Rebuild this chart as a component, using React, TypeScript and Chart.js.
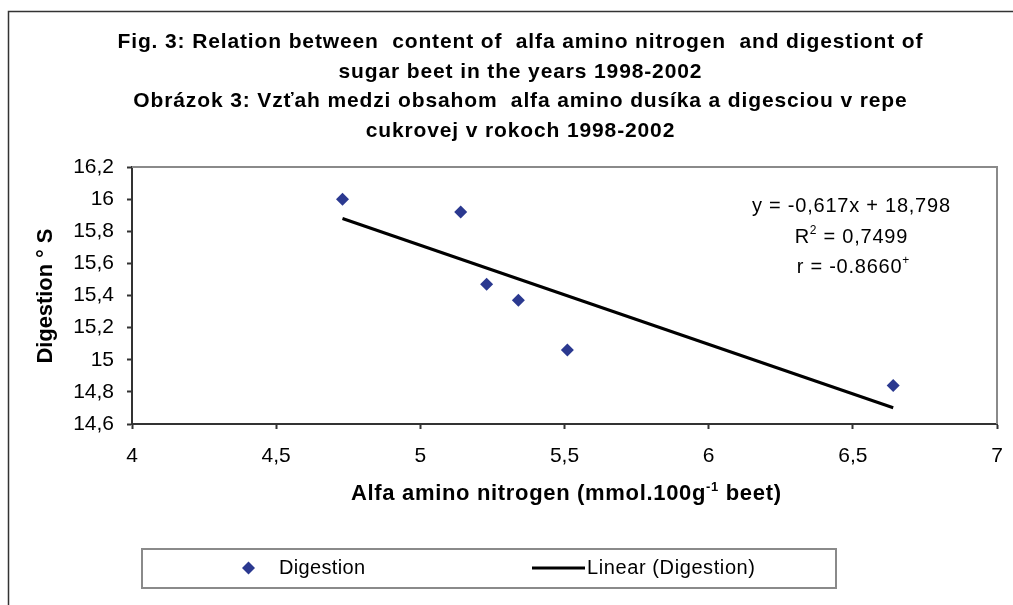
import React, { useEffect, useRef } from 'react';
import { Chart, registerables } from 'chart.js';

Chart.register(...registerables);

// ---- data ----
const NITROGEN = [4.73, 5.14, 5.23, 5.34, 5.51, 6.64];
const DIGESTION = [16.0, 15.92, 15.47, 15.37, 15.06, 14.84];
const SLOPE = -0.617;
const INTERCEPT = 18.798;
const R_SQUARED = '0,7499';
const R_VALUE = '-0.8660';
const TITLE_LINES = [
  'Fig. 3: Relation between  content of  alfa amino nitrogen  and digestiont of',
  'sugar beet in the years 1998-2002',
  'Obrázok 3: Vzťah medzi obsahom  alfa amino dusíka a digesciou v repe',
  'cukrovej v rokoch 1998-2002',
];
const SERIES_LABEL = 'Digestion';
const TREND_LABEL = 'Linear (Digestion)';
const Y_TITLE = 'Digestion ° S';
const X_TITLE_MAIN = 'Alfa amino nitrogen (mmol.100g';
const X_TITLE_SUP = '-1';
const X_TITLE_END = ' beet)';
const X_MIN = 4, X_MAX = 7, X_STEP = 0.5;
const Y_MIN = 14.6, Y_MAX = 16.2, Y_STEP = 0.2;

const FONT = '"Liberation Sans", Arial, sans-serif';
const MARKER = '#2b3990';

const fmt = (v: number) => {
  const r = Math.round(v * 10) / 10;
  return String(r).replace('.', ',');
};

type Part = { t: string; font: string; dy: number };

function drawRun(
  ctx: CanvasRenderingContext2D,
  parts: Part[],
  x: number,
  y: number,
  width: number | null,
  align: 'center' | 'left',
  spacingOverride?: number
) {
  const c: any = ctx;
  c.letterSpacing = '0px';
  let w0 = 0;
  let n = 0;
  parts.forEach((p) => {
    ctx.font = p.font;
    w0 += ctx.measureText(p.t).width;
    n += p.t.length;
  });
  let s = spacingOverride ?? 0;
  if (spacingOverride === undefined && width !== null && n > 1) s = (width - w0) / (n - 1);
  const total = w0 + s * (n - 1);
  let cx = align === 'center' ? x - total / 2 : x;
  ctx.textAlign = 'left';
  ctx.textBaseline = 'middle';
  parts.forEach((p) => {
    ctx.font = p.font;
    c.letterSpacing = `${s}px`;
    ctx.fillText(p.t, cx, y + p.dy);
    c.letterSpacing = '0px';
    cx += ctx.measureText(p.t).width + s * p.t.length;
  });
  c.letterSpacing = '0px';
  return s;
}

function spacingFor(ctx: CanvasRenderingContext2D, text: string, font: string, width: number) {
  const c: any = ctx;
  c.letterSpacing = '0px';
  ctx.font = font;
  const w0 = ctx.measureText(text).width;
  return (width - w0) / (text.length - 1);
}

const drawPlugin = {
  id: 'decor',
  beforeDraw(chart: any) {
    const ctx = chart.ctx;
    ctx.save();
    ctx.fillStyle = '#ffffff';
    ctx.fillRect(0, 0, chart.width, chart.height);
    ctx.restore();
  },
  afterDraw(chart: any) {
    const ctx = chart.ctx as CanvasRenderingContext2D;
    const ca = chart.chartArea;
    ctx.save();
    // outer frame (top + left)
    ctx.strokeStyle = '#333333';
    ctx.lineWidth = 1.5;
    ctx.beginPath();
    ctx.moveTo(8.5, 605);
    ctx.lineTo(8.5, 11.5);
    ctx.lineTo(1013, 11.5);
    ctx.stroke();

    // plot area top/right border (gray)
    ctx.strokeStyle = '#8a8a8a';
    ctx.lineWidth = 2;
    ctx.beginPath();
    ctx.moveTo(ca.left, ca.top);
    ctx.lineTo(ca.right, ca.top);
    ctx.lineTo(ca.right, ca.bottom);
    ctx.stroke();

    ctx.fillStyle = '#000';
    const bold = `bold 21px ${FONT}`;
    const axisBold = `bold 22px ${FONT}`;
    const reg = `20px ${FONT}`;

    // title
    const ts = spacingFor(ctx, TITLE_LINES[0], bold, 805);
    const titleY = [42.5, 72, 101.5, 131];
    TITLE_LINES.forEach((t, i) =>
      drawRun(ctx, [{ t, font: bold, dy: 0 }], 520, titleY[i], null, 'center', ts)
    );

    // y axis title
    ctx.save();
    ctx.translate(46, 296);
    ctx.rotate(-Math.PI / 2);
    drawRun(ctx, [{ t: Y_TITLE, font: axisBold, dy: 0 }], 0, 0, 135, 'center');
    ctx.restore();

    // x axis title with superscript
    drawRun(
      ctx,
      [
        { t: X_TITLE_MAIN, font: axisBold, dy: 0 },
        { t: X_TITLE_SUP, font: `bold 13px ${FONT}`, dy: -7 },
        { t: X_TITLE_END, font: axisBold, dy: 0 },
      ],
      566,
      494,
      430,
      'center'
    );

    // equation text
    const eqX = 851;
    const eq1 = `y = ${String(SLOPE).replace('.', ',')}x + ${String(INTERCEPT).replace('.', ',')}`;
    const es = drawRun(ctx, [{ t: eq1, font: reg, dy: 0 }], eqX, 206, 198, 'center');
    drawRun(
      ctx,
      [
        { t: 'R', font: reg, dy: 0 },
        { t: '2', font: `12px ${FONT}`, dy: -6 },
        { t: ` = ${R_SQUARED}`, font: reg, dy: 0 },
      ],
      eqX,
      237,
      null,
      'center',
      es
    );
    drawRun(
      ctx,
      [
        { t: `r = ${R_VALUE}`, font: reg, dy: 0 },
        { t: '+', font: `12px ${FONT}`, dy: -6 },
      ],
      eqX + 2,
      267,
      null,
      'center',
      es
    );

    // legend
    ctx.strokeStyle = '#8a8a8a';
    ctx.lineWidth = 2;
    ctx.strokeRect(142, 549, 694, 39);
    const ly = 568;
    ctx.fillStyle = MARKER;
    ctx.beginPath();
    ctx.moveTo(248.5, ly - 6.5);
    ctx.lineTo(255, ly);
    ctx.lineTo(248.5, ly + 6.5);
    ctx.lineTo(242, ly);
    ctx.closePath();
    ctx.fill();
    ctx.fillStyle = '#000';
    drawRun(ctx, [{ t: SERIES_LABEL, font: reg, dy: 0 }], 279, ly, 86, 'left');
    ctx.strokeStyle = '#000';
    ctx.lineWidth = 3;
    ctx.beginPath();
    ctx.moveTo(532, ly);
    ctx.lineTo(585, ly);
    ctx.stroke();
    drawRun(ctx, [{ t: TREND_LABEL, font: reg, dy: 0 }], 587, ly, 168, 'left');
    ctx.restore();
  },
};

export default function App() {
  const ref = useRef<HTMLCanvasElement | null>(null);
  useEffect(() => {
    if (!ref.current) return;
    const xMin = Math.min(...NITROGEN);
    const xMax = Math.max(...NITROGEN);
    const trend = [
      { x: xMin, y: SLOPE * xMin + INTERCEPT },
      { x: xMax, y: SLOPE * xMax + INTERCEPT },
    ];
    const chart = new Chart(ref.current, {
      type: 'scatter',
      data: {
        datasets: [
          {
            label: TREND_LABEL,
            type: 'line',
            data: trend,
            borderColor: '#000',
            borderWidth: 3,
            pointRadius: 0,
            fill: false,
            order: 2,
          } as any,
          {
            label: SERIES_LABEL,
            data: NITROGEN.map((x, i) => ({ x, y: DIGESTION[i] })),
            pointStyle: 'rectRot',
            pointRadius: 6.5,
            pointHoverRadius: 6.5,
            backgroundColor: MARKER,
            borderColor: MARKER,
            borderWidth: 0,
            order: 1,
          },
        ],
      },
      options: {
        responsive: false,
        animation: false,
        devicePixelRatio: 1,
        layout: { padding: { left: 0, right: 16, top: 167, bottom: 0 } },
        plugins: {
          legend: { display: false },
          title: { display: false },
          tooltip: { enabled: false },
        },
        scales: {
          x: {
            type: 'linear',
            min: X_MIN,
            max: X_MAX,
            afterFit: (s: any) => {
              s.height = 181;
              s.paddingLeft = 0;
              s.paddingRight = 0;
            },
            ticks: {
              stepSize: X_STEP,
              color: '#000',
              font: { family: FONT, size: 21 },
              padding: 15,
              callback: (v: any) => fmt(Number(v)),
              maxRotation: 0,
            },
            grid: {
              drawOnChartArea: false,
              drawTicks: true,
              tickLength: 5,
              color: '#333',
              tickWidth: 2,
            },
            border: { display: true, color: '#333', width: 2 },
          },
          y: {
            type: 'linear',
            min: Y_MIN,
            max: Y_MAX,
            afterFit: (s: any) => {
              s.width = 132;
              s.paddingTop = 0;
              s.paddingBottom = 0;
            },
            ticks: {
              stepSize: Y_STEP,
              color: '#000',
              font: { family: FONT, size: 21 },
              padding: 13,
              callback: (v: any) => fmt(Number(v)),
            },
            grid: {
              drawOnChartArea: false,
              drawTicks: true,
              tickLength: 5,
              color: '#333',
              tickWidth: 2,
            },
            border: { display: true, color: '#333', width: 2 },
          },
        },
      },
      plugins: [drawPlugin],
    });
    return () => chart.destroy();
  }, []);
  return (
    <div style={{ position: 'absolute', left: 0, top: 0, width: 1013, height: 605, background: '#fff' }}>
      <canvas ref={ref} width={1013} height={605} style={{ display: 'block' }} />
    </div>
  );
}
